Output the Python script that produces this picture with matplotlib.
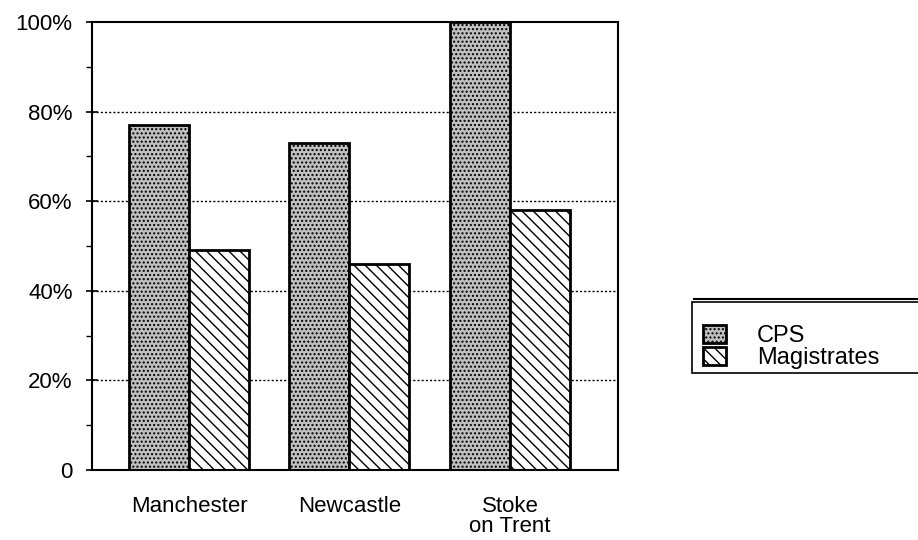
import matplotlib.pyplot as plt
from matplotlib.patches import Rectangle
from matplotlib.lines import Line2D
from matplotlib.ticker import MultipleLocator, FixedLocator

plt.rcParams['font.family'] = ['Liberation Sans', 'DejaVu Sans']
plt.rcParams['hatch.linewidth'] = 1.0

# data
cities = ["Manchester", "Newcastle", "Stoke\non Trent"]
cps = [77, 73, 100]
magistrates = [49, 46, 58]
series_names = ["CPS", "Magistrates"]
y_ticks = [0, 20, 40, 60, 80, 100]
y_labels = ["0", "20%", "40%", "60%", "80%", "100%"]

W, H = 918, 540
fig = plt.figure(figsize=(W / 100, H / 100), dpi=100)
ax = fig.add_axes([92 / W, 1 - 470 / H, (618 - 92) / W, (470 - 22) / H])

width = 0.374
x = range(len(cities))

# dotted gridlines behind the bars
for yv in y_ticks[1:-1]:
    ax.axhline(yv, color="black", linestyle=(0, (1.5, 1.5)), linewidth=1.0, zorder=0)

ax.bar([i - width / 2 for i in x], cps, width, facecolor="#c0c0c0", edgecolor="black",
       hatch="....", linewidth=2, label=series_names[0], zorder=2)
ax.bar([i + width / 2 for i in x], magistrates, width, facecolor="white", edgecolor="black",
       hatch="\\\\\\", linewidth=2, label=series_names[1], zorder=2)

ax.set_xlim(-0.604, 2.673)
ax.set_ylim(0, 100)

ax.set_xticks(list(x))
ax.set_xticklabels(cities, fontsize=16, linespacing=0.9)
ax.tick_params(axis="x", length=0, pad=19)

ax.yaxis.set_major_locator(FixedLocator(y_ticks))
ax.set_yticklabels(y_labels, fontsize=16)
ax.yaxis.set_minor_locator(MultipleLocator(10))
ax.tick_params(axis="y", which="major", direction="inout", length=8, width=1.2, pad=10)
ax.tick_params(axis="y", which="minor", direction="out", length=4, width=1.0)

for s in ax.spines.values():
    s.set_linewidth(1.5)

# legend box running off the right edge, with a doubled top border
fig.patches.append(Rectangle((692 / W, 1 - 373 / H), 240 / W, 71 / H, transform=fig.transFigure,
                             facecolor="white", edgecolor="black", linewidth=1.2, clip_on=False))
fig.lines.append(Line2D([694 / W, 1.0], [1 - 299 / H, 1 - 299 / H], transform=fig.transFigure,
                        color="black", linewidth=1.5))

handles, labels = ax.get_legend_handles_labels()
leg = fig.legend(handles, labels, loc="upper left", bbox_to_anchor=(698 / W, 1 - 320 / H),
                 fontsize=17, frameon=False,
                 handlelength=1.0, handleheight=0.8, handletextpad=1.3,
                 borderpad=0.2, labelspacing=0.0, borderaxespad=0)

fig.savefig("out.png", dpi=100)
